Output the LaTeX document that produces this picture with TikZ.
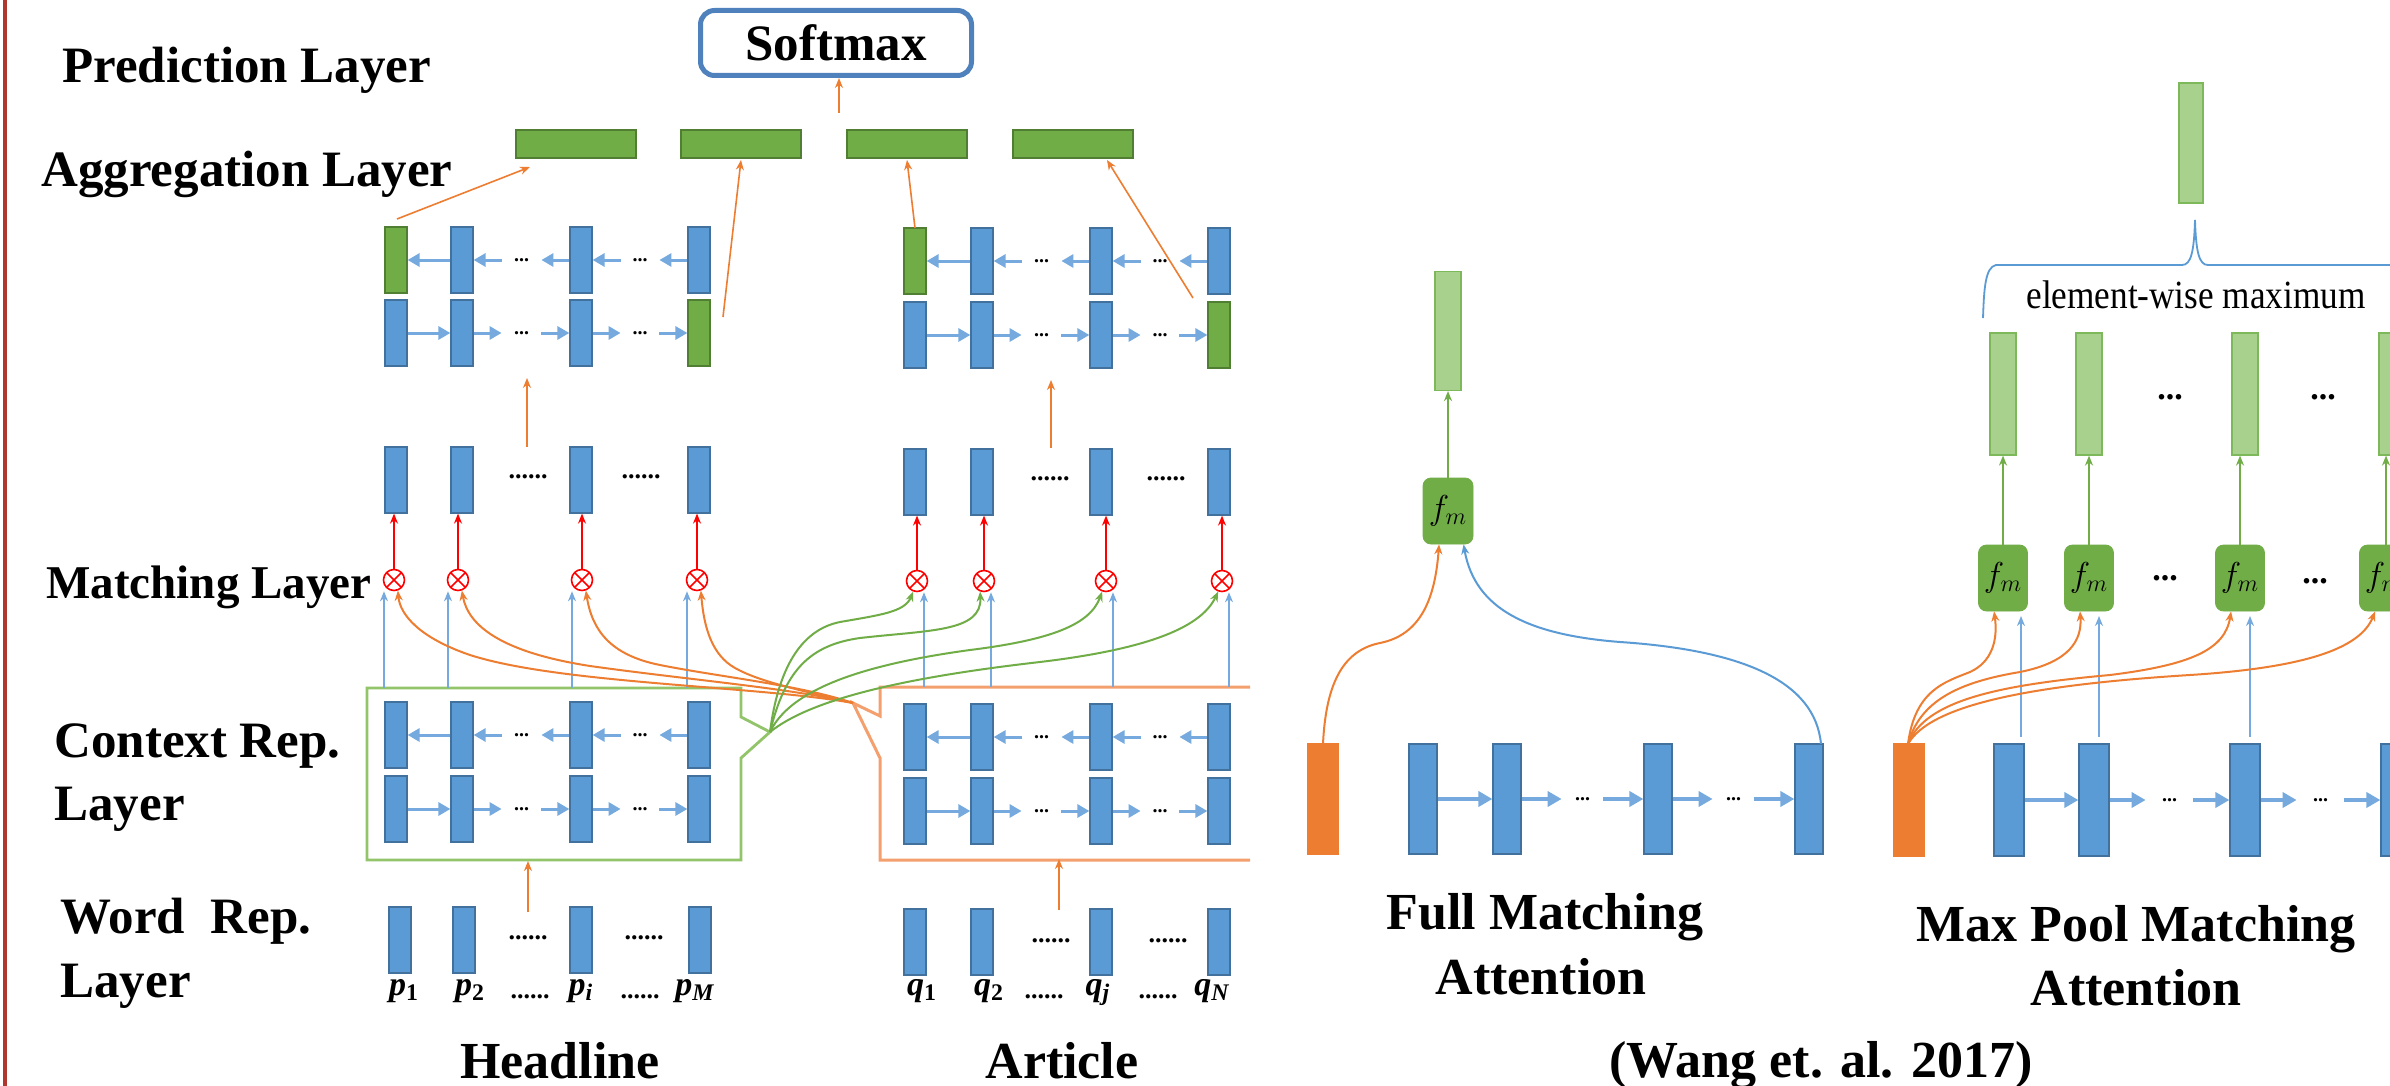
\documentclass[tikz,border=0pt]{standalone}
\usepackage{fontspec}
\setmainfont{Liberation Serif}
\usetikzlibrary{arrows.meta,calc}
\definecolor{bfill}{RGB}{91,155,213}
\definecolor{bdraw}{RGB}{65,113,156}
\definecolor{gfill}{RGB}{112,173,71}
\definecolor{gdraw}{RGB}{80,126,50}
\definecolor{lgfill}{RGB}{169,209,142}
\definecolor{lgdraw}{RGB}{125,185,90}
\definecolor{org}{RGB}{237,125,49}
\definecolor{orgl}{RGB}{244,160,110}
\definecolor{gline}{RGB}{146,196,106}
\definecolor{lblue}{RGB}{118,170,222}
\definecolor{smx}{RGB}{79,129,189}
\definecolor{bord}{RGB}{175,55,45}
\newcommand\fwdrow[5]{%
  \draw[lstm] (#1.east) -- (#2.west);
  \draw[lstm] (#2.east) -- ++(#5,0);
  \draw[lstm] ($(#3.west)+(-#5,0)$) -- (#3.west);
  \node[sdots] at ($(#2.east)!0.5!(#3.west)$) {...};
  \draw[lstm] (#3.east) -- ++(#5,0);
  \draw[lstm] ($(#4.west)+(-#5,0)$) -- (#4.west);
  \node[sdots] at ($(#3.east)!0.5!(#4.west)$) {...};
}
\newcommand\bwdrow[5]{%
  \draw[lstm] (#2.west) -- (#1.east);
  \draw[lstm] ($(#2.east)+(#5,0)$) -- (#2.east);
  \draw[lstm] (#3.west) -- ++(-#5,0);
  \node[sdots] at ($(#2.east)!0.5!(#3.west)$) {...};
  \draw[lstm] ($(#3.east)+(#5,0)$) -- (#3.east);
  \draw[lstm] (#4.west) -- ++(-#5,0);
  \node[sdots] at ($(#3.east)!0.5!(#4.west)$) {...};
}
\begin{document}
\begin{tikzpicture}[x=0.5pt,y=-0.5pt,
  vbar/.style={rectangle,inner sep=0pt,line width=0.6pt,draw=bdraw,fill=bfill,minimum width=11pt,minimum height=33pt},
  gbar/.style={vbar,draw=gdraw,fill=gfill},
  lgbar/.style={vbar,draw=lgdraw,fill=lgfill},
  obar/.style={vbar,draw=org,fill=org},
  hbarg/.style={vbar,draw=gdraw,fill=gfill,minimum width=60pt,minimum height=14pt},
  rbar/.style={minimum width=14pt,minimum height=55pt},
  lstm/.style={draw=lblue,line width=1.5pt,-{Triangle[length=6pt,width=6.5pt]}},
  arr/.style={line width=0.8pt,-{Stealth[length=5pt,width=4pt]}},
  sdots/.style={inner sep=0pt,font=\fontsize{10}{10}\selectfont\bfseries},
  mdots/.style={inner sep=0pt,font=\fontsize{13}{12}\selectfont\bfseries},
  bdots/.style={inner sep=0pt,font=\fontsize{17}{12}\selectfont\bfseries},
  otimes/.style={circle,draw=red,line width=0.8pt,minimum size=10.5pt,inner sep=0pt,
    path picture={\draw[red,line width=0.8pt] (path picture bounding box.north west) -- (path picture bounding box.south east)
      (path picture bounding box.north east) -- (path picture bounding box.south west);}},
  fm/.style={rectangle,rounded corners=4pt,fill=gfill,draw=gfill,minimum width=25pt,minimum height=33pt,inner sep=0pt,font=\fontsize{17}{18}\selectfont},
  lbl/.style={anchor=base west,inner sep=0pt,font=\fontsize{25.5}{30}\selectfont\bfseries},
  ctr/.style={anchor=base,inner sep=0pt,font=\fontsize{26}{30}\selectfont\bfseries},
  plab/.style={anchor=base,inner sep=0pt,font=\fontsize{17}{18}\selectfont\bfseries\itshape},
  ocurve/.style={draw=org,line width=1pt,-{Stealth[length=5pt,width=4pt]}},
  gcurve/.style={draw=gfill,line width=1pt,-{Stealth[length=5pt,width=4pt]}}
]
\path[use as bounding box,fill=white] (0,0) rectangle (2390,1086);
\clip (0,0) rectangle (2390,1086);
\draw[bord,line width=2pt] (4.5,0) -- (4.5,1086);

% ---------- left labels ----------
\node[lbl] (tPred) at (62,83) {Prediction Layer};
\node[lbl] (tAgg) at (41,187) {Aggregation Layer};
\node[lbl,font=\fontsize{23.5}{28}\selectfont\bfseries] (tMat) at (46,598) {Matching Layer};
\node[lbl] (tCtx) at (54,757) {Context Rep.};
\node[lbl] (tCtx2) at (54,820) {Layer};
\node[lbl] (tWrd) at (60,933) {Word\ \ Rep.};
\node[lbl] (tWrd2) at (60,997) {Layer};
\node[ctr] (tHead) at (560,1078) {Headline};
\node[ctr] (tArt) at (1062,1078) {Article};
\node[ctr] (tWang) at (1821,1077) {(Wang et. al. 2017)};
\node[ctr] (tFull) at (1545,929) {Full Matching};
\node[ctr] (tFull2) at (1541,994) {Attention};
\node[ctr] (tMax) at (2136,941) {Max Pool Matching};
\node[ctr] (tMax2) at (2136,1005) {Attention};

% ---------- softmax & aggregation ----------
\node[draw=smx,line width=2.5pt,rounded corners=7pt,minimum width=135.5pt,minimum height=32.5pt,inner sep=0pt,
  font=\fontsize{25.5}{30}\selectfont\bfseries] (smx) at (836,43) {Softmax};
\node[hbarg] (ag1) at (576,144) {};
\node[hbarg] (ag2) at (741,144) {};
\node[hbarg] (ag3) at (907,144) {};
\node[hbarg] (ag4) at (1073,144) {};
\coordinate (sA) at (839,113);
\draw[arr,org] (sA) -- (sA |- smx.south);

% ---------- headline columns ----------
\foreach \i/\x in {1/396,2/462,3/581,4/699}{
  \node[vbar] (hAb\i) at (\x,260) {};
  \node[vbar] (hAf\i) at (\x,333) {};
  \node[vbar] (hM\i) at (\x,480) {};
  \node[vbar] (hCb\i) at (\x,735) {};
  \node[vbar] (hCf\i) at (\x,809) {};
}
\foreach \i/\x in {1/400,2/464,3/581,4/700}{
  \node[vbar] (hW\i) at (\x,940) {};
}
\node[gbar] (hAb1) at (396,260) {};
\node[gbar] (hAf4) at (699,333) {};
% ---------- article columns ----------
\foreach \i/\x in {1/915,2/982,3/1101,4/1219}{
  \node[vbar] (aAb\i) at (\x,261) {};
  \node[vbar] (aAf\i) at (\x,335) {};
  \node[vbar] (aM\i) at (\x,482) {};
  \node[vbar] (aCb\i) at (\x,737) {};
  \node[vbar] (aCf\i) at (\x,811) {};
  \node[vbar] (aW\i) at (\x,942) {};
}
\node[gbar] (aAb1) at (915,261) {};
\node[gbar] (aAf4) at (1219,335) {};

\bwdrow{hAb1}{hAb2}{hAb3}{hAb4}{14pt}
\fwdrow{hAf1}{hAf2}{hAf3}{hAf4}{14pt}
\bwdrow{aAb1}{aAb2}{aAb3}{aAb4}{14pt}
\fwdrow{aAf1}{aAf2}{aAf3}{aAf4}{14pt}
\bwdrow{hCb1}{hCb2}{hCb3}{hCb4}{14pt}
\fwdrow{hCf1}{hCf2}{hCf3}{hCf4}{14pt}
\bwdrow{aCb1}{aCb2}{aCb3}{aCb4}{14pt}
\fwdrow{aCf1}{aCf2}{aCf3}{aCf4}{14pt}

% aggregation inputs
\coordinate (l1s) at (397,219); \coordinate (l1e) at (530,167);
\coordinate (l2s) at (723,317); \coordinate (l2e) at (741,160);
\coordinate (l3s) at (915,228); \coordinate (l3e) at (907,160);
\coordinate (l4s) at (1193,298); \coordinate (l4e) at (1107,160);
\draw[arr,org] (l1s) -- (l1e);
\draw[arr,org] (l2s) -- (l2e);
\draw[arr,org] (l3s) -- (l3e);
\draw[arr,org] (l4s) -- (l4e);

% matching rows -> aggregation
\coordinate (hMu) at (527,447); \coordinate (aMu) at (1051,448);
\draw[arr,org] (hMu) -- (527,378);
\draw[arr,org] (aMu) -- (1051,380);
\node[mdots] at (528,477) {......};
\node[mdots] at (641,477) {......};
\node[mdots] at (1050,479) {......};
\node[mdots] at (1166,479) {......};

% otimes
\foreach \i/\x in {1/394,2/458,3/582,4/697}{
  \node[otimes] (hX\i) at (\x,580) {};
  \draw[arr,red] (hX\i.north) -- (hX\i.north |- hM\i.south) ;
}
\foreach \i/\x in {1/917,2/984,3/1106,4/1222}{
  \node[otimes] (aX\i) at (\x,581) {};
  \draw[arr,red] (aX\i.north) -- (aX\i.north |- aM\i.south);
}

% context boxes
\coordinate (gT) at (770,732);
\coordinate (oT) at (853,703);
\draw[gline,line width=1.4pt] (367,688) -- (741,688) -- (741,717) -- (gT) -- (741,758) -- (741,860) -- (367,860) -- cycle;
\draw[orgl,line width=1.5pt] (1250,687) -- (880,687) -- (880,716) -- (oT) -- (880,758) -- (880,860) -- (1250,860);

% blue vertical connectors to otimes
\foreach \i/\x in {1/384,2/448,3/572,4/687}{
  \coordinate (hB\i) at (\x,688);
  \draw[arr,lblue] (hB\i) -- (hB\i |- hX\i.south);
}
\foreach \i/\x in {1/924,2/991,3/1113,4/1229}{
  \coordinate (aB\i) at (\x,687);
  \draw[arr,lblue] (aB\i) -- (aB\i |- aX\i.south);
}

% orange curves (article -> headline matching)
\draw[ocurve] (oT) .. controls (760,686) and (560,684) .. (470,655) .. controls (420,638) and (400,615) .. (hX1.-70);
\draw[ocurve] (oT) .. controls (790,688) and (690,680) .. (590,666) .. controls (500,652) and (468,625) .. (hX2.-70);
\draw[ocurve] (oT) .. controls (800,685) and (720,677) .. (660,665) .. controls (610,655) and (592,630) .. (hX3.-70);
\draw[ocurve] (oT) .. controls (800,690) and (760,682) .. (735,668) .. controls (712,655) and (704,628) .. (hX4.-70);
% green curves (headline -> article matching)
\draw[gcurve] (gT) .. controls (778,670) and (800,630) .. (840,622) .. controls (880,615) and (905,612) .. (aX1.-110);
\draw[gcurve] (gT) .. controls (785,670) and (810,645) .. (860,638) .. controls (930,630) and (982,632) .. (aX2.-110);
\draw[gcurve] (gT) .. controls (790,690) and (860,665) .. (970,650) .. controls (1050,640) and (1090,625) .. (aX3.-110);
\draw[gcurve] (gT) .. controls (810,700) and (900,678) .. (1040,662) .. controls (1140,650) and (1200,630) .. (aX4.-110);

% word rows -> context
\coordinate (hWu) at (528,912); \coordinate (aWu) at (1059,910);
\draw[arr,org] (hWu) -- (528,861);
\draw[arr,org] (aWu) -- (1059,859);
\node[mdots] at (528,938) {......};
\node[mdots] at (644,938) {......};
\node[mdots] at (1051,941) {......};
\node[mdots] at (1168,941) {......};

% word labels
\node[plab] (p1) at (404,995) {p\textsubscript{\upshape 1}};
\node[plab] (p2) at (470,995) {p\textsubscript{\upshape 2}};
\node[plab,font=\fontsize{13}{14}\selectfont\bfseries] (pd1) at (530,998) {......};
\node[plab] (pi) at (581,995) {p\textsubscript{i}};
\node[plab,font=\fontsize{13}{14}\selectfont\bfseries] (pd2) at (640,998) {......};
\node[plab] (pM) at (695,995) {p\textsubscript{M}};
\node[plab] (q1) at (922,995) {q\textsubscript{\upshape 1}};
\node[plab] (q2) at (989,995) {q\textsubscript{\upshape 2}};
\node[plab,font=\fontsize{13}{14}\selectfont\bfseries] (qd1) at (1044,998) {......};
\node[plab] (qj) at (1098,995) {q\textsubscript{j}};
\node[plab,font=\fontsize{13}{14}\selectfont\bfseries] (qd2) at (1158,998) {......};
\node[plab] (qN) at (1212,995) {q\textsubscript{N}};

% ---------- Full matching ----------
\node[obar,rbar,minimum width=15.5pt] (fO) at (1323,799) {};
\foreach \i/\x in {1/1423,2/1507,3/1658,4/1809}{
  \node[vbar,rbar] (fB\i) at (\x,799) {};
}
\node[fm] (fF) at (1448,511) {$f_m$};
\node[lgbar,minimum width=13pt,minimum height=59.5pt] (fT) at (1448,331) {};
\draw[arr,gfill] (fF.north) -- (fT.south);
\begin{scope}[lstm/.style={draw=lblue,line width=1.9pt,-{Triangle[length=7pt,width=7.5pt]}}]
\fwdrow{fB1}{fB2}{fB3}{fB4}{20pt}
\end{scope}
\coordinate (fOt) at (1323,744);
\coordinate (fBt) at (1821,744);
\draw[ocurve] (fOt) .. controls (1326,680) and (1345,650) .. (1380,643) .. controls (1420,635) and (1435,600) .. (fF.-105);
\draw[ocurve,draw=bfill] (fBt) .. controls (1815,680) and (1740,650) .. (1620,642) .. controls (1530,635) and (1475,610) .. (fF.-65);

% ---------- Max pool matching ----------
\node[obar,rbar,minimum width=15.5pt,minimum height=56pt] (mO) at (1909,800) {};
\foreach \i/\x in {1/2009,2/2094,3/2245,4/2396}{
  \node[vbar,rbar,minimum width=15pt,minimum height=56pt] (mB\i) at (\x,800) {};
}
\foreach \i/\x in {1/2003,2/2089,3/2240,4/2384}{
  \node[fm,minimum width=24.5pt] (mF\i) at (\x,578) {$f_m$};
}
\foreach \i/\x in {1/2003,2/2089,3/2245,4/2392}{
  \node[lgbar,minimum width=13pt,minimum height=61pt] (mG\i) at (\x,394) {};
}
\foreach \i/\x in {1/2003,2/2089,3/2240,4/2386}{
  \coordinate (mFt\i) at (\x,545);
  \draw[arr,gfill] (mFt\i) -- (mFt\i |- mG\i.south);
}
\node[lgbar,minimum width=12pt,minimum height=60pt] (mT) at (2191,143) {};
\begin{scope}[lstm/.style={draw=lblue,line width=1.9pt,-{Triangle[length=7pt,width=7.5pt]}}]
\fwdrow{mB1}{mB2}{mB3}{mB4}{18pt}
\end{scope}
\foreach \i/\x in {1/2021,2/2099,3/2250,4/2399}{
  \coordinate (mBt\i) at (\x,737);
  \draw[arr,lblue] (mBt\i) -- (\x,616);
}
\coordinate (mOt) at (1908,744);
\draw[ocurve] (mOt) .. controls (1915,690) and (1945,682) .. (1970,672) .. controls (1992,662) and (1998,640) .. (mF1.-105);
\draw[ocurve] (mOt) .. controls (1920,700) and (1960,682) .. (2020,672) .. controls (2070,662) and (2082,640) .. (mF2.-105);
\draw[ocurve] (mOt) .. controls (1925,700) and (2000,685) .. (2110,675) .. controls (2190,665) and (2225,650) .. (mF3.-105);
\draw[ocurve] (mOt) .. controls (1930,705) and (2030,685) .. (2190,675) .. controls (2300,668) and (2360,650) .. (mF4.-105);
\node[bdots] at (2165,578) {...};
\node[bdots] at (2315,581) {...};
\node[bdots] at (2170,397) {...};
\node[bdots] at (2323,397) {...};

% brace
\draw[draw=bfill,line width=0.9pt] (1983,318) .. controls (1984,290) and (1985,267) .. (1996,265) -- (2182,265)
  .. controls (2191,265) and (2194,252) .. (2195,220) .. controls (2196,252) and (2199,265) .. (2208,265) -- (2400,265);
\node[anchor=base,inner sep=0pt,font=\fontsize{20}{24}\selectfont] (ewm) at (2196,308) {\scalebox{0.88}[1]{element-wise maximum}};
\end{tikzpicture}
\end{document}
